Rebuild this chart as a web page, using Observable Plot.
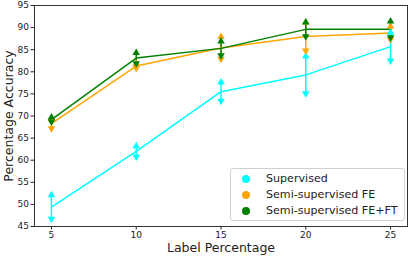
<!DOCTYPE html>
<html>
<head>
<meta charset="utf-8">
<script src="https://cdn.jsdelivr.net/npm/d3@7"></script>
<script src="https://cdn.jsdelivr.net/npm/@observablehq/plot@0.6"></script>
<style>
  body { margin: 0; background: #fff; font-family: "DejaVu Sans", sans-serif; }
  #wrap { position: relative; width: 409px; height: 258px; }
  #legend { position: absolute; left: 230px; top: 168px; width: 175px; height: 53px;
    border: 1px solid #d0d0d0; border-radius: 3px; background: rgba(255,255,255,0.85);
    font-family: "DejaVu Sans", sans-serif; font-size: 11.1px; color: #222; box-sizing: border-box; }
  .row { position: absolute; left: 0; height: 14px; line-height: 14px; white-space: nowrap; }
  .sw { position: absolute; left: 11px; top: 3px; width: 8px; height: 8px; border-radius: 50%; }
  .lab { position: absolute; left: 35px; top: 0; }
</style>
</head>
<body>
<div id="wrap"></div>
<script>
const labelPct = [5, 10, 15, 20, 25];
const seriesNames = ["Supervised", "Semi-supervised FE", "Semi-supervised FE+FT"];
const seriesColors = ["#00ffff", "#ffa500", "#008000"];
const supervised = [49.4, 62.0, 75.5, 79.3, 85.7];
const supervisedErr = [2.7, 1.2, 2.1, 4.2, 3.2];
const semiFE = [68.3, 81.3, 85.4, 88.0, 88.8];
const semiFEErr = [1.1, 0.5, 2.5, 3.2, 1.5];
const semiFEFT = [69.2, 83.1, 85.3, 89.6, 89.6];
const semiFEFTErr = [0.5, 1.2, 1.6, 1.6, 1.8];
const yTicks = [45, 50, 55, 60, 65, 70, 75, 80, 85, 90, 95];

const values = [supervised, semiFE, semiFEFT];
const errs = [supervisedErr, semiFEErr, semiFEFTErr];
const data = [];
seriesNames.forEach((s, i) => labelPct.forEach((x, j) => data.push({
  series: s, x, y: values[i][j], lo: values[i][j] - errs[i][j], hi: values[i][j] + errs[i][j]
})));

const color = {domain: seriesNames, range: seriesColors};

const chart = Plot.plot({
  width: 409, height: 258,
  marginLeft: 34, marginRight: 2, marginTop: 5, marginBottom: 32,
  style: {fontFamily: "DejaVu Sans, sans-serif", fontSize: "9px", color: "#222", background: "#fff"},
  x: {domain: [4, 26], ticks: labelPct, label: null},
  y: {domain: [45, 95], ticks: yTicks, label: null},
  color,
  marks: [
    Plot.axisX({ticks: labelPct, tickSize: 3.5, tickPadding: 2, label: null, fontSize: 9}),
    Plot.axisY({ticks: yTicks, tickSize: 3.5, tickPadding: 2, label: null, fontSize: 9}),
    Plot.ruleX(data, {x: "x", y1: "lo", y2: "hi", stroke: "series", strokeWidth: 1.5}),
    Plot.lineY(data, {x: "x", y: "y", z: "series", stroke: "series", strokeWidth: 1.5}),
    Plot.dot(data, {x: "x", y: "hi", fill: "series", symbol: "triangle", r: 2.8, stroke: null}),
    Plot.dot(data, {x: "x", y: "lo", fill: "series", symbol: "triangle", r: 2.8, rotate: 180, stroke: null}),
    Plot.frame({stroke: "#333", strokeWidth: 1}),
    Plot.text(["Percentage Accuracy"], {frameAnchor: "left", textAnchor: "middle", dx: -26, rotate: -90, fontSize: 12.5, fill: "#222"}),
    Plot.text(["Label Percentage"], {frameAnchor: "bottom", textAnchor: "middle", dy: 25, fontSize: 12.5, fill: "#222"})
  ]
});

const wrap = document.getElementById("wrap");
wrap.appendChild(chart);
const legend = document.createElement("div");
legend.id = "legend";
seriesNames.forEach((s, i) => {
  const row = document.createElement("div");
  row.className = "row";
  row.style.top = (3 + i * 16) + "px";
  const sw = document.createElement("span");
  sw.className = "sw";
  sw.style.background = seriesColors[i];
  const lab = document.createElement("span");
  lab.className = "lab";
  lab.textContent = s;
  row.appendChild(sw); row.appendChild(lab);
  legend.appendChild(row);
});
wrap.appendChild(legend);
</script>
</body>
</html>
